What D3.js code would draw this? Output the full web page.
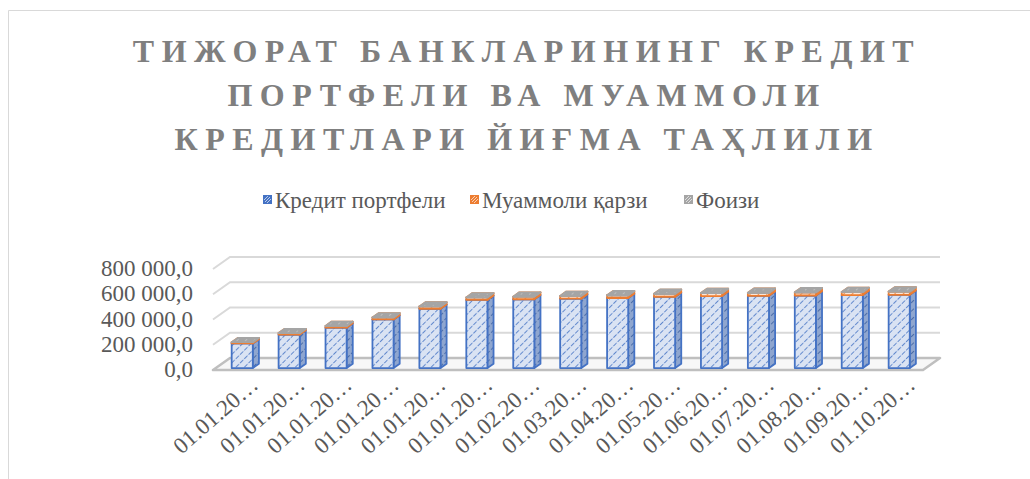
<!DOCTYPE html>
<html>
<head>
<meta charset="utf-8">
<script src="https://cdn.jsdelivr.net/npm/d3@7"></script>
<style>
  body { margin: 0; background: #fff; }
  svg { display: block; }
</style>
</head>
<body>
<div id="vis"></div>
<script>
// chart data
var titleLines = ["ТИЖОРАТ БАНКЛАРИНИНГ КРЕДИТ", "ПОРТФЕЛИ ВА МУАММОЛИ", "КРЕДИТЛАРИ ЙИҒМА ТАҲЛИЛИ"];
var seriesNames = ["Кредит портфели", "Муаммоли қарзи", "Фоизи"];
var dateLabels = ["01.01.20…", "01.01.20…", "01.01.20…", "01.01.20…", "01.01.20…", "01.01.20…",
  "01.02.20…", "01.03.20…", "01.04.20…", "01.05.20…", "01.06.20…", "01.07.20…",
  "01.08.20…", "01.09.20…", "01.10.20…"];
var creditPortfolio = [195000, 265000, 320000, 385000, 470000, 540000, 545000, 550000,
  555000, 565000, 570000, 572000, 575000, 578000, 580000];
var problemLoans = [10000, 12000, 14000, 16000, 18000, 20000, 21000, 22000,
  22000, 23000, 24000, 24000, 25000, 25000, 26000];
var share = [5.1, 4.5, 4.4, 4.2, 3.8, 3.7, 3.9, 4.0, 4.0, 4.1, 4.2, 4.2, 4.3, 4.3, 4.5];
var yTicks = [0, 200000, 400000, 600000, 800000];

var width = 1030, height = 479;
var serif = "'Liberation Serif', 'Times New Roman', 'DejaVu Serif', serif";
var svg = d3.select("#vis").append("svg").attr("width", width).attr("height", height);
var defs = svg.append("defs");

// hatch patterns
function hatch(id, bg, fg, w, dash) {
  var p = defs.append("pattern").attr("id", id).attr("patternUnits", "userSpaceOnUse")
    .attr("width", 6).attr("height", 6).attr("patternTransform", "rotate(45)");
  p.append("rect").attr("width", 6).attr("height", 6).attr("fill", bg);
  p.append("line").attr("x1", 0).attr("y1", 0).attr("x2", 0).attr("y2", 6)
    .attr("stroke", fg).attr("stroke-width", w).attr("stroke-dasharray", dash);
}
hatch("blueFront", "#dae3f3", "#4472c4", 1.6, "3,1.5");
hatch("blueSide", "#8fa6cf", "#3a5f9e", 1.6, "2,2");
hatch("orangeFront", "#fbe5d6", "#ed7d31", 1.6, "3,1.5");
hatch("orangeSide", "#d98a58", "#b85a1c", 1.6, "2,2");
hatch("grayTop", "#a5a5a5", "#d0d0d0", 1.2, "2,3");
hatch("graySide", "#8c8c8c", "#6e6e6e", 1.2, "2,2");

// frame
svg.append("path").attr("d", "M8.5,479 L8.5,10.5 L1030,10.5")
  .attr("fill", "none").attr("stroke", "#d9d9d9").attr("stroke-width", 1);

// title
var tl = svg.append("g").attr("font-family", serif)
  .attr("font-weight", "bold").attr("font-size", 32).attr("fill", "#7f7f7f")
  .attr("letter-spacing", 7.5);
tl.selectAll("text").data(titleLines).enter().append("text")
  .attr("x", 527)
  .attr("y", function(d, i) { return 62 + i * 44; })
  .attr("text-anchor", "middle")
  .text(function(d) { return d; });

// legend
var legendX = [263, 470, 684];
var legendFill = ["#4472c4", "#ed7d31", "#a5a5a5"];
var lg = svg.append("g").attr("font-family", serif)
  .attr("font-size", 23).attr("fill", "#595959");
var li = lg.selectAll("g").data(seriesNames).enter().append("g")
  .attr("transform", function(d, i) { return "translate(" + legendX[i] + ",200)"; });
li.append("rect").attr("x", 0).attr("y", -5).attr("width", 9).attr("height", 9)
  .attr("fill", function(d, i) { return legendFill[i]; });
li.append("path").attr("d", "M2,2 L7,-3 M1,0 L5,-4 M4,3 L8,-1")
  .attr("stroke", "#fff").attr("stroke-width", 0.8).attr("opacity", 0.8);
li.append("text").attr("x", 12).attr("y", 8).text(function(d) { return d; });

// 3D geometry
var DX = 17, DY = 12;
var floorL = 213, floorR = 923;
var x = d3.scaleBand().domain(d3.range(dateLabels.length)).range([floorL, floorR])
  .paddingInner(0.55).paddingOuter(0.34);
var y = d3.scaleLinear().domain([0, 800000]).range([370, 269]);
function P(px, v, d) { return [px + d * DX, y(v) - d * DY]; }

// gridlines on side wall and back wall
var grid = svg.append("g");
grid.selectAll("polyline").data(yTicks.slice(1)).enter().append("polyline")
  .attr("points", function(t) {
    return [P(floorL, t, 0), P(floorL, t, 1), P(floorR, t, 1)].join(" ");
  })
  .attr("fill", "none").attr("stroke", "#d9d9d9").attr("stroke-width", 2);

// floor
svg.append("polygon")
  .attr("points", [P(floorL, 0, 0), P(floorR, 0, 0), P(floorR, 0, 1), P(floorL, 0, 1)].join(" "))
  .attr("fill", "#f7f7f7").attr("stroke", "#bfbfbf").attr("stroke-width", 2.5)
  .attr("stroke-linejoin", "round");

// y axis labels
var yFmt = function(v) { return d3.format(",.1f")(v).replace(/,/g, " ").replace(".", ","); };
svg.append("g").attr("font-family", serif)
  .attr("font-size", 23).attr("fill", "#595959").attr("text-anchor", "end")
  .selectAll("text").data(yTicks).enter().append("text")
  .attr("x", 193).attr("y", function(t) { return y(t) + 7; })
  .text(yFmt);

// stacked 3D columns
var d0 = 0.16, d1 = 0.52;
var segs = [];
creditPortfolio.forEach(function(v, i) {
  var a = v, b = v + problemLoans[i], c = b + share[i];
  segs.push({ i: i, lo: 0, hi: a, front: "url(#blueFront)", side: "url(#blueSide)", top: "url(#blueFront)", stroke: "#4472c4" });
  segs.push({ i: i, lo: a, hi: b, front: "url(#orangeFront)", side: "url(#orangeSide)", top: "url(#orangeFront)", stroke: "#ed7d31" });
  segs.push({ i: i, lo: b, hi: c, front: "#a5a5a5", side: "url(#graySide)", top: "url(#grayTop)", stroke: "#a5a5a5" });
});
var cols = svg.append("g");
var box = cols.selectAll("g").data(segs).enter().append("g")
  .attr("stroke", function(s) { return s.stroke; }).attr("stroke-width", 1.8)
  .attr("stroke-linejoin", "round");
box.append("polygon").attr("fill", function(s) { return s.side; })
  .attr("points", function(s) {
    var xr = x(s.i) + x.bandwidth();
    return [P(xr, s.lo, d0), P(xr, s.lo, d1), P(xr, s.hi, d1), P(xr, s.hi, d0)].join(" ");
  });
box.append("polygon").attr("fill", function(s) { return s.front; })
  .attr("points", function(s) {
    var xl = x(s.i), xr = xl + x.bandwidth();
    return [P(xl, s.lo, d0), P(xr, s.lo, d0), P(xr, s.hi, d0), P(xl, s.hi, d0)].join(" ");
  });
box.append("polygon").attr("fill", function(s) { return s.top; })
  .attr("points", function(s) {
    var xl = x(s.i), xr = xl + x.bandwidth();
    return [P(xl, s.hi, d0), P(xr, s.hi, d0), P(xr, s.hi, d1), P(xl, s.hi, d1)].join(" ");
  });

// x axis labels
svg.append("g").attr("font-family", serif)
  .attr("font-size", 23).attr("fill", "#595959").attr("text-anchor", "end")
  .selectAll("text").data(dateLabels).enter().append("text")
  .attr("transform", function(d, i) {
    return "translate(" + (x(i) + x.bandwidth() / 2 + 20) + ",387) rotate(-41)";
  })
  .text(function(d) { return d; });
</script>
</body>
</html>
